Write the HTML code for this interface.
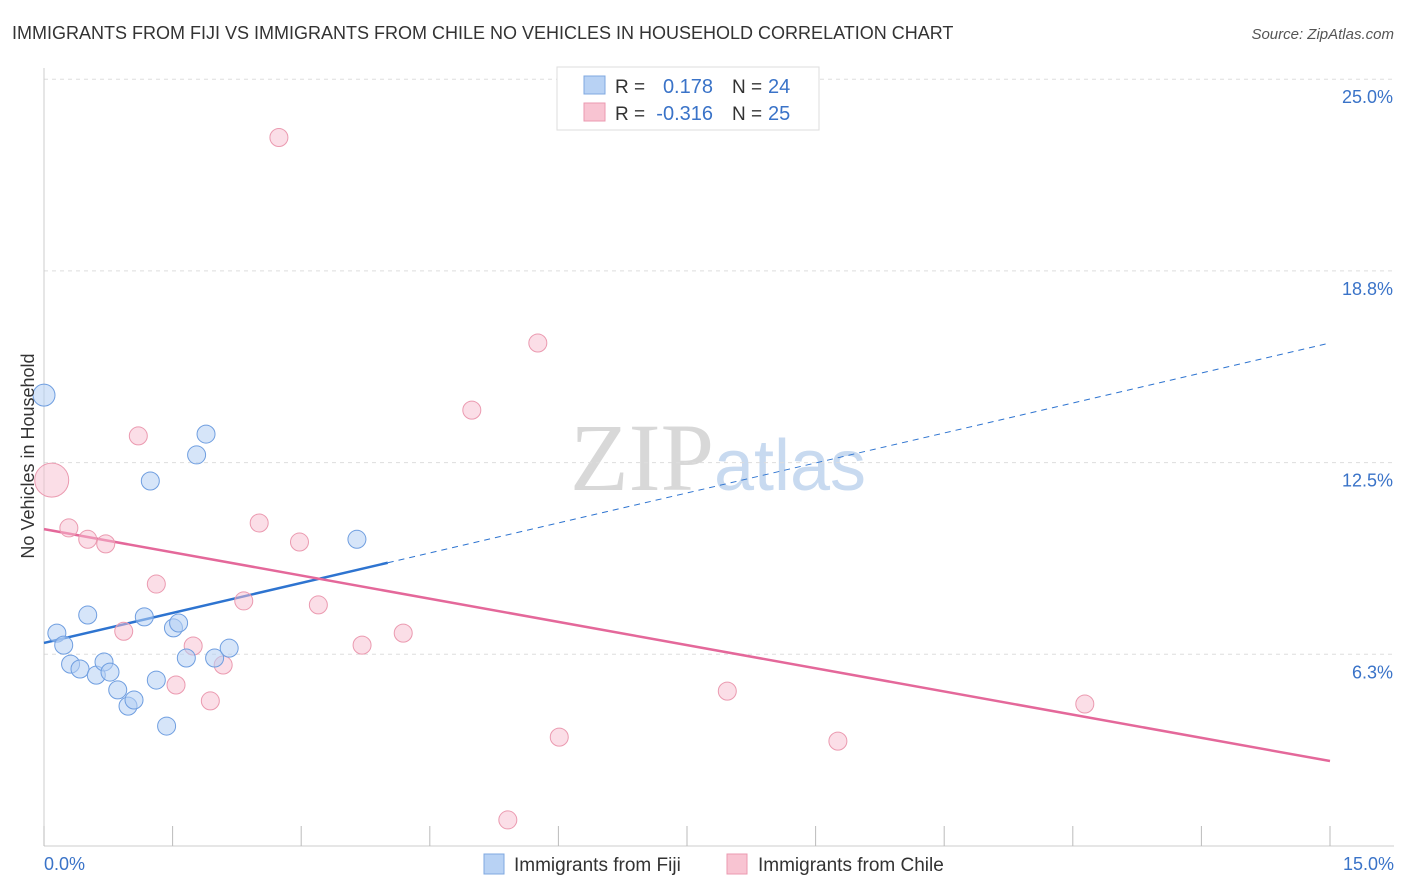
<!DOCTYPE html>
<html><head><meta charset="utf-8"><style>
body{margin:0;background:#fff;font-family:"Liberation Sans",sans-serif;}
svg{display:block}
</style></head><body>
<svg id="chart" width="1406" height="892" xmlns="http://www.w3.org/2000/svg">
<text x="12" y="39" font-size="18" fill="#333">IMMIGRANTS FROM FIJI VS IMMIGRANTS FROM CHILE NO VEHICLES IN HOUSEHOLD CORRELATION CHART</text>
<text x="1394" y="39" font-size="15" fill="#555" text-anchor="end" font-style="italic">Source: ZipAtlas.com</text>
<text x="718" y="490" font-size="96" text-anchor="middle" fill="#ddd" font-family="Liberation Serif"><tspan fill="#d8d8d8">ZIP</tspan><tspan fill="#c8daf0" font-family="Liberation Sans" font-size="72">atlas</tspan></text>
<g id="grid"></g>
<g id="axes"></g>
<g id="lines"></g>
<g id="pts"></g>
<text transform="translate(34,456) rotate(-90)" font-size="18" fill="#333" text-anchor="middle">No Vehicles in Household</text>
<g>
<rect x="557" y="67" width="262" height="63" fill="#fff" stroke="#ddd"/>
<rect x="584" y="76" width="21" height="18" fill="#b8d2f4" stroke="#7fa8e0"/>
<rect x="584" y="103" width="21" height="18" fill="#f8c4d2" stroke="#eb9ab0"/>
<text x="615" y="93" font-size="19" fill="#333">R =</text>
<text x="713" y="93" font-size="20" fill="#3a73c8" text-anchor="end">0.178</text>
<text x="732" y="93" font-size="19" fill="#333">N =</text>
<text x="768" y="93" font-size="20" fill="#3a73c8">24</text>
<text x="615" y="120" font-size="19" fill="#333">R =</text>
<text x="713" y="120" font-size="20" fill="#3a73c8" text-anchor="end">-0.316</text>
<text x="732" y="120" font-size="19" fill="#333">N =</text>
<text x="768" y="120" font-size="20" fill="#3a73c8">25</text>
</g>
<g>
<rect x="484" y="854" width="20" height="20" fill="#b8d2f4" stroke="#7fa8e0"/>
<text x="514" y="871" font-size="19" fill="#333">Immigrants from Fiji</text>
<rect x="727" y="854" width="20" height="20" fill="#f8c4d2" stroke="#eb9ab0"/>
<text x="758" y="871" font-size="19" fill="#333">Immigrants from Chile</text>
</g>
</svg>
<script>
const yTicks=[6.25,12.5,18.75,25];
const yTickLabels=["6.3%","12.5%","18.8%","25.0%"];
const xLabels=["0.0%","15.0%"];
const fijiX=[0,0.15,0.23,0.31,0.42,0.51,0.61,0.70,0.77,0.86,0.98,1.05,1.17,1.24,1.31,1.43,1.51,1.57,1.66,1.78,1.89,1.99,2.16,3.65];
const fijiY=[14.7,6.94,6.55,5.93,5.77,7.53,5.57,6.0,5.67,5.09,4.56,4.76,7.47,11.9,5.41,3.91,7.11,7.27,6.13,12.75,13.43,6.13,6.45,10.0];
const fijiR=[11,9,9,9,9,9,9,9,9,9,9,9,9,9,9,9,9,9,9,9,9,9,9,9];
const chileX=[0.09,0.29,0.51,0.72,0.93,1.1,1.31,1.54,1.74,1.94,2.09,2.33,2.51,2.74,2.98,3.2,3.71,4.19,4.99,5.41,5.76,6.01,7.97,9.26,12.14];
const chileY=[11.93,10.37,10.0,9.85,7.0,13.37,8.54,5.25,6.52,4.73,5.9,7.99,10.53,23.1,9.91,7.86,6.55,6.94,14.21,0.85,16.4,3.55,5.05,3.42,4.63];
const chileR=[17,9,9,9,9,9,9,9,9,9,9,9,9,9,9,9,9,9,9,9,9,9,9,9,9];
const fijiTrend=[6.62,16.4]; const fijiSolidEnd=4.01;
const chileTrend=[10.33,2.77];
const X=v=>44+v/15*1286, Y=v=>846-v/25*766.8;
const NS="http://www.w3.org/2000/svg";
function mk(p,t,a){const e=document.createElementNS(NS,t);for(const k in a)e.setAttribute(k,a[k]);p.appendChild(e);return e;}
const grid=document.getElementById('grid'),axes=document.getElementById('axes'),lines=document.getElementById('lines'),pts=document.getElementById('pts');
yTicks.forEach((t,i)=>{const l=mk(grid,'line',{x1:44,x2:1394,y1:Y(t),y2:Y(t),stroke:'#ddd','stroke-dasharray':'4,4'});


const tx=mk(axes,'text',{x:1393,y:Y(t)+24,'font-size':18,fill:'#3a73c8','text-anchor':'end'});tx.textContent=yTickLabels[i];

});
mk(axes,'line',{x1:44,x2:44,y1:68,y2:846,stroke:'#ccc'});
mk(axes,'line',{x1:44,x2:1394,y1:846,y2:846,stroke:'#ccc'});
for(let i=0;i<=10;i++){const t=mk(axes,'line',{x1:X(i*1.5),x2:X(i*1.5),y1:826,y2:846,stroke:'#bbb'});

}
[[0,'start',44],[1,'end',1394]].forEach(([i,a,x])=>{const t=mk(axes,'text',{x:x,y:870,'font-size':18,fill:'#3a73c8','text-anchor':a});t.textContent=xLabels[i];

});
const fy=v=>fijiTrend[0]+(fijiTrend[1]-fijiTrend[0])*v/15;
let l1=mk(lines,'line',{x1:X(0),y1:Y(fy(0)),x2:X(fijiSolidEnd),y2:Y(fy(fijiSolidEnd)),stroke:'#2e74d0','stroke-width':2.5});

let l2=mk(lines,'line',{x1:X(fijiSolidEnd),y1:Y(fy(fijiSolidEnd)),x2:X(15),y2:Y(fy(15)),stroke:'#2e74d0','stroke-width':1,'stroke-dasharray':'6,5'});

let l3=mk(lines,'line',{x1:X(0),y1:Y(chileTrend[0]),x2:X(15),y2:Y(chileTrend[1]),stroke:'#e4689a','stroke-width':2.5});

chileX.forEach((x,i)=>{const c=mk(pts,'circle',{cx:X(x),cy:Y(chileY[i]),r:chileR[i],fill:'rgba(248,190,208,0.5)',stroke:'#eb9ab0','stroke-width':1});

});
fijiX.forEach((x,i)=>{const c=mk(pts,'circle',{cx:X(x),cy:Y(fijiY[i]),r:fijiR[i],fill:'rgba(180,208,244,0.55)',stroke:'#6f9ee0','stroke-width':1});

});
</script>
</body></html>
